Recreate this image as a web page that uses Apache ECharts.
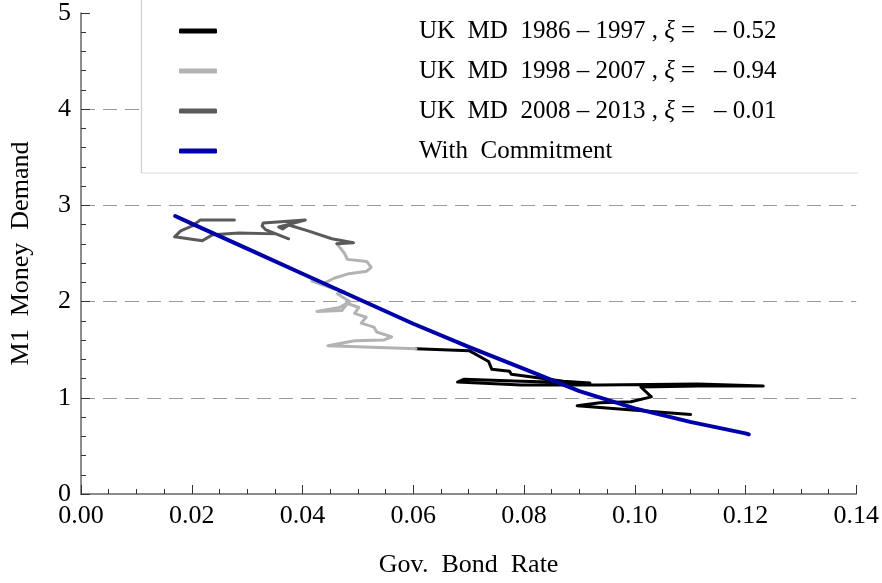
<!DOCTYPE html>
<html>
<head>
<meta charset="utf-8">
<script src="https://cdn.jsdelivr.net/npm/echarts@6/dist/echarts.min.js"></script>
<style>
html,body{margin:0;padding:0;background:#fff;}
#chart{width:882px;height:583px;}
</style>
</head>
<body>
<div id="chart"></div>
<script>
// ---- data (bond rate, M1 money demand) ----
var seriesNames = [
  'UK  MD  1986 \u2013 1997 , \u03be =   \u2013 0.52',
  'UK  MD  1998 \u2013 2007 , \u03be =   \u2013 0.94',
  'UK  MD  2008 \u2013 2013 , \u03be =   \u2013 0.01',
  'With  Commitment'
];
var md1986 = [
  [0.1101,0.827],[0.0896,0.918],[0.0937,0.949],[0.0993,0.959],[0.1030,1.010],
  [0.1011,1.112],[0.1114,1.122],[0.1232,1.122],[0.1114,1.143],[0.0937,1.133],
  [0.0795,1.133],[0.0680,1.163],[0.0692,1.194],[0.0795,1.173],[0.0919,1.153],
  [0.0871,1.173],[0.0818,1.214],[0.0777,1.245],[0.0774,1.276],[0.0742,1.296],
  [0.0736,1.378],[0.0701,1.490],[0.0605,1.510]
];
var md1998 = [
  [0.0605,1.510],[0.0446,1.541],[0.0494,1.592],[0.0547,1.602],[0.0561,1.633],
  [0.0534,1.684],[0.0529,1.735],[0.0506,1.776],[0.0515,1.837],[0.0494,1.878],
  [0.0502,1.939],[0.0481,1.980],[0.0471,1.908],[0.0426,1.898],[0.0467,1.939],
  [0.0485,2.000],[0.0463,2.082],[0.0476,2.102],[0.0462,2.122],[0.0417,2.214],
  [0.0437,2.184],[0.0458,2.245],[0.0481,2.286],[0.0516,2.316],[0.0524,2.357],
  [0.0516,2.418],[0.0481,2.439],[0.0476,2.500],[0.0462,2.602]
];
var md2008 = [
  [0.0462,2.602],[0.0492,2.612],[0.0453,2.653],[0.0410,2.735],[0.0375,2.796],
  [0.0364,2.755],[0.0357,2.776],[0.0405,2.847],[0.0329,2.816],[0.0327,2.786],
  [0.0334,2.745],[0.0375,2.653],[0.0352,2.704],[0.0286,2.714],[0.0237,2.694],
  [0.0219,2.633],[0.0169,2.673],[0.0180,2.735],[0.0201,2.786],[0.0215,2.847],
  [0.0277,2.847]
];
var commitment = [
  [0.017,2.89],[0.02,2.81],[0.03,2.55],[0.04,2.29],[0.05,2.03],[0.06,1.77],
  [0.07,1.53],[0.08,1.30],[0.09,1.07],[0.10,0.89],[0.11,0.75],[0.12,0.63],[0.1206,0.62]
];
var colors = ['#000000','#b3b3b3','#5a5a5a','#0000a8'];

var FONT = 'Liberation Serif';
var chart = echarts.init(document.getElementById('chart'));

function lineSeries(name, data, color, width, z){
  return {
    name: name, type: 'line', data: data, showSymbol: false, symbol: 'none',
    lineStyle: {color: color, width: width, cap: 'round', join: 'round'},
    itemStyle: {color: color}, z: z, animation: false
  };
}

chart.setOption({
  animation: false,
  grid: {left: 71.5, right: 20.3, top: 12, bottom: 81, containLabel: false},
  xAxis: {
    type: 'value', min: 0, max: 0.14, interval: 0.02,
    name: 'Gov.  Bond  Rate', nameLocation: 'middle', nameGap: 58,
    nameTextStyle: {fontFamily: FONT, fontSize: 26, color: '#000'},
    axisLine: {show: true, lineStyle: {color: '#666', width: 1.5}},
    axisTick: {show: true, inside: true, length: 9, lineStyle: {color: '#333', width: 1}},
    minorTick: {show: true, splitNumber: 4, length: 5, lineStyle: {color: '#333', width: 1}},
    axisLabel: {fontFamily: FONT, fontSize: 26, color: '#000', margin: 9,
      formatter: function(v){ return v.toFixed(2); }},
    splitLine: {show: false}
  },
  yAxis: {
    type: 'value', min: 0, max: 5, interval: 1,
    name: 'M1  Money  Demand', nameLocation: 'middle', nameGap: 47,
    nameTextStyle: {fontFamily: FONT, fontSize: 26, color: '#000'},
    axisLine: {show: true, lineStyle: {color: '#666', width: 1.5}},
    axisTick: {show: true, inside: true, length: 9, lineStyle: {color: '#333', width: 1}},
    minorTick: {show: true, splitNumber: 5, length: 5, lineStyle: {color: '#333', width: 1}},
    axisLabel: {fontFamily: FONT, fontSize: 26, color: '#000', margin: 10},
    splitLine: {show: true, showMinLine: false, showMaxLine: false,
      lineStyle: {color: '#9a9a9a', width: 1, type: [14, 8]}}
  },
  graphic: [
    {type: 'rect', z: 5, shape: {x: 141, y: -2, width: 717, height: 175},
     style: {fill: '#fff', stroke: null}},
    {type: 'line', z: 6, shape: {x1: 141.5, y1: 0, x2: 141.5, y2: 173},
     style: {stroke: '#cfcfcf', lineWidth: 1.2}},
    {type: 'line', z: 6, shape: {x1: 141.5, y1: 173, x2: 858, y2: 173},
     style: {stroke: '#dadada', lineWidth: 1.2}}
  ],
  legend: {
    orient: 'vertical', left: 179, top: 16, z: 10, padding: 0,
    itemWidth: 38, itemHeight: 5, itemGap: 10, icon: 'roundRect',
    data: seriesNames,
    formatter: function(name){
      return '{s|}' + name.replace('\u03be', '{i|\u03be}');
    },
    textStyle: {
      fontFamily: FONT, fontSize: 25, color: '#000', lineHeight: 30,
      rich: {
        s: {width: 197},
        i: {fontFamily: FONT, fontSize: 25, fontStyle: 'italic', color: '#000'}
      }
    }
  },
  series: [
    lineSeries(seriesNames[0], md1986, colors[0], 3, 3),
    lineSeries(seriesNames[1], md1998, colors[1], 3, 3),
    lineSeries(seriesNames[2], md2008, colors[2], 3, 3),
    lineSeries(seriesNames[3], commitment, colors[3], 4, 4)
  ]
});
</script>
</body>
</html>
